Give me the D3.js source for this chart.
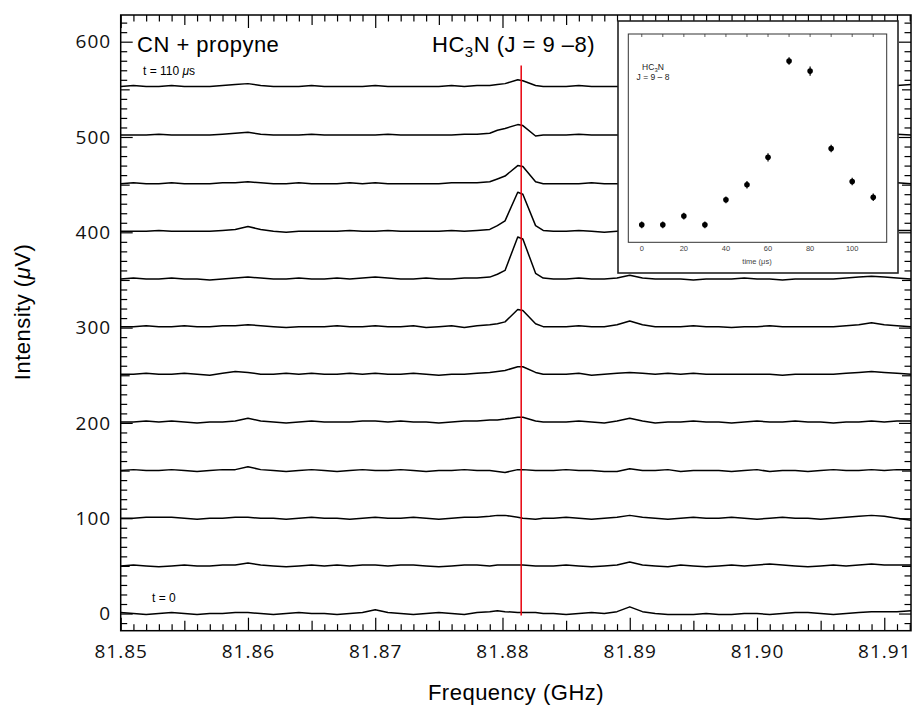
<!DOCTYPE html>
<meta charset="utf-8" />
<script src="https://d3js.org/d3.v7.min.js"></script>
<style>
  body { margin: 0; background: #fff; }
  svg { display: block; }
  .trace { fill: none; stroke: #000; stroke-width: 1.5; stroke-linejoin: round; }
  .axis path { display: none; }
  .axis line { stroke: #000; stroke-width: 1.2; }
  .axis text { font-family: "Open Sans", sans-serif; font-size: 19px; letter-spacing: 1px; fill: #111; }
  .lbl { font-family: "Liberation Sans", Arial, sans-serif; fill: #000; }
  .big { letter-spacing: 0.5px; }
  .ilbl { font-family: "Liberation Sans", Arial, sans-serif; }
</style>
<body>
<div id="chart"></div>
<script>
  // frequency grid, in MHz above 81.850 GHz
  const freqMHz = [
    0, 1, 2, 3, 4, 5, 6, 7, 8, 9,
    10, 11, 12, 13, 14, 15, 16, 17, 18, 19,
    20, 21, 22, 23, 24, 25, 26, 27, 28, 29,
    29.6, 30.2, 31.2, 31.6, 32.6, 33.2,
    34, 35, 36, 37, 38, 39, 40, 41, 42, 43,
    44, 45, 46, 47, 48, 49, 50, 51, 52, 53,
    54, 55, 56, 57, 58, 59, 60, 61,
    62.1
  ];

  // delay after photolysis (us) and vertical offset of each trace (uV)
  const delays = [0, 10, 20, 30, 40, 50, 60, 70, 80, 90, 100, 110];
  const offsets = [0, 50, 100, 150, 201, 251, 301, 351, 401, 451, 502, 553];

  // intensity of each trace above its offset (uV), one value per grid point
  const trace0 = [
    1,0,-1,0,1,0,-1,0,0,1,   1,0,-1,0,1,0,0,-1,0,1,   4,1,0,-1,0,1,0,-1,1,2,
    3,2,1,1,1,0,
    0,-1,0,1,0,2,7,2,0,-1,   -1,-1,0,-1,-1,0,0,-1,0,1,   1,0,-1,0,1,2,2,2,   3
  ];
  const trace1 = [
    0,1,0,-1,0,1,0,0,1,1,   3,1,0,-1,0,1,0,1,0,1,   1,0,1,1,0,-1,0,1,1,0,
    1,1,1,1,0,0,
    0,1,0,-1,0,1,4,1,0,-1,   1,0,-1,0,1,0,1,2,1,0,   -1,0,1,0,1,2,1,1,   1
  ];
  const trace2 = [
    0,0,1,1,1,0,-1,0,0,1,   1,0,0,-1,0,1,0,0,-1,0,   1,0,0,1,0,-1,0,1,1,2,
    3,3,1,0,-1,0,
    0,1,0,-1,0,1,3,1,0,-1,   0,1,0,0,1,0,-1,0,1,0,   0,-1,0,1,2,3,2,0,   -2
  ];
  const trace3 = [
    0,1,0,0,1,0,-1,0,1,1,   4,1,0,-1,0,1,0,-1,0,1,   0,0,1,0,-1,0,0,1,0,0,
    -1,-2,1,1,0,0,
    0,1,0,0,-1,-1,2,0,0,1,   -1,0,0,0,-1,0,1,-1,0,0,   -1,0,1,0,0,1,0,1,   1
  ];
  const trace4 = [
    0,0,1,0,1,0,-1,0,0,1,   4,1,0,-1,0,1,0,0,0,1,   1,0,1,0,0,-1,0,1,1,2,
    2,3,5,5,1,0,
    0,0,1,0,-1,1,4,1,-1,0,   0,1,0,0,-1,0,1,0,0,1,   0,0,-1,0,0,1,0,1,   1
  ];
  const trace5 = [
    0,0,1,0,0,1,0,-1,1,3,   2,0,0,1,0,1,0,0,1,0,   1,0,0,1,0,-1,0,0,1,2,
    3,4,8,8,2,0,
    0,0,1,-1,0,1,2,1,0,1,   0,1,0,0,0,0,0,0,-1,0,   0,0,0,1,2,3,2,1,   0
  ];
  const trace6 = [
    0,0,1,0,0,1,0,0,1,1,   2,1,0,-1,0,0,0,1,0,0,   1,0,0,1,-1,0,1,-1,1,2,
    3,5,18,17,3,0,
    0,0,1,0,0,2,6,2,0,0,   0,1,0,0,-1,0,0,1,0,0,   0,0,0,1,2,4,2,1,   0
  ];
  const trace7 = [
    0,1,0,0,1,0,0,-1,0,1,   2,1,0,0,1,0,0,1,0,1,   2,1,0,0,1,0,0,1,1,2,
    5,9,44,42,6,1,
    0,0,1,0,0,1,4,1,0,0,   0,-1,0,0,0,1,0,0,-1,0,   0,0,0,1,2,3,2,1,   0
  ];
  const trace8 = [
    0,0,0,1,0,0,0,0,1,2,   5,2,0,-1,0,0,0,0,1,0,   0,1,0,0,0,0,1,0,1,2,
    6,11,41,39,6,1,
    0,0,1,0,-1,0,1,0,0,0,   0,0,1,0,0,0,0,0,1,0,   0,0,0,0,1,1,0,1,   1
  ];
  const trace9 = [
    0,1,0,0,1,0,0,0,1,1,   2,1,0,0,1,0,0,0,1,0,   1,0,0,0,0,0,1,1,1,2,
    5,8,19,18,2,0,
    0,0,0,1,0,0,0,0,0,0,   0,0,0,0,0,0,0,0,0,0,   0,0,0,0,0,0,1,1,   0
  ];
  const trace10 = [
    0,0,0,1,0,0,0,0,1,2,   3,1,0,0,0,1,0,0,0,0,   0,1,0,0,0,0,0,1,1,2,
    5,7,11,10,-1,0,
    0,0,1,0,0,0,0,0,0,0,   0,0,0,0,0,0,0,0,0,0,   0,0,0,0,0,0,1,1,   0
  ];
  const trace11 = [
    0,1,0,0,1,0,0,0,1,2,   3,1,0,0,0,1,0,0,0,0,   1,0,0,0,0,0,1,0,1,1,
    2,3,7,6,1,0,
    0,0,1,0,0,0,0,0,0,0,   0,0,0,0,0,0,0,0,0,0,   0,0,0,0,0,0,1,1,   2
  ];
  const traces = [trace0, trace1, trace2, trace3, trace4, trace5,
                  trace6, trace7, trace8, trace9, trace10, trace11];

  // HC3N J = 9-8 rest frequency (GHz)
  const lineFreq = 81.88147;

  // inset: line intensity vs delay
  const insetSignal = [4.2, 4.2, 6.3, 4.2, 10.2, 13.8, 20.4, 43.5, 41.1, 22.5, 14.6, 10.8];
  const insetError  = [0.8, 0.8, 0.8, 0.8, 0.8, 0.9, 1.0, 0.9, 1.1, 0.9, 0.9, 0.9];

  const xTicks = [81.85, 81.86, 81.87, 81.88, 81.89, 81.90, 81.91];
  const yTicks = [0, 100, 200, 300, 400, 500, 600];
  const insetTicks = [0, 20, 40, 60, 80, 100];

  const W = 913, H = 708;
  const svg = d3.select("#chart").append("svg").attr("width", W).attr("height", H);

  const x = d3.scaleLinear().domain([81.85, 81.9121]).range([120.7, 911]);
  const y = d3.scaleLinear().domain([-18, 628]).range([630.7, 15]);
  const [x0, x1] = x.range(), [yb, yt] = y.range();

  // traces
  const line = d3.line()
    .x(d => x(81.85 + d[0] / 1000))
    .y(d => y(d[1]));
  svg.append("g").selectAll("path")
    .data(traces)
    .join("path")
    .attr("class", "trace")
    .attr("d", (vals, i) => line(freqMHz.map((m, k) => [m, offsets[i] + (vals[k] || 0)])));

  // line position
  svg.append("line")
    .attr("x1", x(lineFreq)).attr("x2", x(lineFreq))
    .attr("y1", y(-2)).attr("y2", y(575))
    .attr("stroke", "#e8000c").attr("stroke-width", 1.5);

  // axes: ticks point inward on all four sides
  const minorX = d3.range(0, 63).map(i => 81.85 + i / 1000);
  const minorY = d3.range(-1, 63).map(i => i * 10);
  function addAxis(axisFn, scale, vals, size, pos, labels) {
    const a = axisFn(scale).tickValues(vals).tickSizeInner(-size).tickSizeOuter(0);
    if (!labels) a.tickFormat("");
    return svg.append("g").attr("class", "axis").attr("transform", pos).call(a);
  }
  [[d3.axisBottom, `translate(0,${yb})`], [d3.axisTop, `translate(0,${yt})`]].forEach(([fn, pos]) => {
    addAxis(fn, x, minorX.filter((v, i) => i % 5 !== 0), 6.5, pos, false);
    addAxis(fn, x, minorX.filter((v, i) => i % 10 === 5), 10, pos, false);
  });
  [[d3.axisLeft, `translate(${x0},0)`], [d3.axisRight, `translate(${x1},0)`]].forEach(([fn, pos]) => {
    addAxis(fn, y, minorY.filter(v => v % 50 !== 0), 6.5, pos, false);
    addAxis(fn, y, minorY.filter(v => v % 100 === 50), 9, pos, false);
  });
  addAxis(d3.axisBottom, x, xTicks, 13, `translate(0,${yb})`, true)
    .call(g => g.selectAll(".tick text").text(d => d3.format(".2f")(d)).attr("y", 14).attr("dy", "0.71em"));
  addAxis(d3.axisTop, x, xTicks, 13, `translate(0,${yt})`, false);
  addAxis(d3.axisLeft, y, yTicks, 12, `translate(${x0},0)`, true)
    .call(g => g.selectAll(".tick text").attr("x", -9.5));
  addAxis(d3.axisRight, y, yTicks, 12, `translate(${x1},0)`, false);

  // frame
  svg.append("rect")
    .attr("x", x0).attr("y", yt).attr("width", x1 - x0).attr("height", yb - yt)
    .attr("fill", "none").attr("stroke", "#000").attr("stroke-width", 1.5);

  // labels
  svg.append("text").attr("class", "lbl big").attr("x", 137).attr("y", 52)
    .attr("font-size", 22).text("CN + propyne");
  const hc = svg.append("text").attr("class", "lbl big").attr("x", 432).attr("y", 52).attr("font-size", 22);
  hc.append("tspan").text("HC");
  hc.append("tspan").attr("font-size", 15).attr("dy", 5).text("3");
  hc.append("tspan").attr("dy", -5).text("N (J = 9 \u20138)");

  const t1 = svg.append("text").attr("class", "lbl").attr("x", 143).attr("y", 75).attr("font-size", 12);
  t1.append("tspan").text("t = 110 ");
  t1.append("tspan").attr("font-style", "italic").text("\u03bc");
  t1.append("tspan").text("s");
  svg.append("text").attr("class", "lbl").attr("x", 152).attr("y", 602)
    .attr("font-size", 12).text("t = 0");

  svg.append("text").attr("class", "lbl big").attr("x", 516).attr("y", 700)
    .attr("text-anchor", "middle").attr("font-size", 22).text("Frequency (GHz)");
  const yl = svg.append("text").attr("class", "lbl big").attr("text-anchor", "middle")
    .attr("font-size", 22).attr("transform", "translate(30,312) rotate(-90)");
  yl.append("tspan").text("Intensity (");
  yl.append("tspan").attr("font-style", "italic").text("\u03bc");
  yl.append("tspan").text("V)");

  // inset
  const inset = svg.append("g");
  inset.append("rect").attr("x", 618).attr("y", 21).attr("width", 280).attr("height", 252)
    .attr("fill", "#fff").attr("stroke", "#222").attr("stroke-width", 1.6);
  const ix = d3.scaleLinear().domain([-6.4, 116.4]).range([628.3, 886.7]);
  const iy = d3.scaleLinear().domain([0, 50]).range([242.3, 34]);
  inset.append("rect").attr("x", 628.3).attr("y", 34).attr("width", 258.4).attr("height", 208.3)
    .attr("fill", "none").attr("stroke", "#333").attr("stroke-width", 1);
  inset.append("g").selectAll("line").data(d3.range(0, 111, 10)).join("line")
    .attr("x1", d => ix(d)).attr("x2", d => ix(d))
    .attr("y1", 34).attr("y2", 37).attr("stroke", "#333").attr("stroke-width", 0.8);
  inset.append("g").selectAll("text").data(insetTicks).join("text")
    .attr("class", "ilbl")
    .attr("x", d => ix(d)).attr("y", 251)
    .attr("text-anchor", "middle").attr("font-size", 7.5).attr("fill", "#444").text(d => d);
  inset.append("text").attr("class", "ilbl").attr("x", 757).attr("y", 264).attr("text-anchor", "middle")
    .attr("font-size", 7.5).attr("fill", "#444").text("time (\u03bcs)");
  const ih = inset.append("text").attr("class", "ilbl").attr("x", 653).attr("y", 70)
    .attr("text-anchor", "middle").attr("font-size", 8.5).attr("fill", "#222");
  ih.append("tspan").text("HC");
  ih.append("tspan").attr("font-size", 6).attr("dy", 1.5).text("3");
  ih.append("tspan").attr("dy", -1.5).text("N");
  inset.append("text").attr("class", "ilbl").attr("x", 653).attr("y", 80).attr("text-anchor", "middle")
    .attr("font-size", 8.5).attr("fill", "#222").text("J = 9 \u2013 8");

  const pts = delays.map((t, i) => ({ t, v: insetSignal[i], e: insetError[i] }));
  const pg = inset.append("g").selectAll("g").data(pts).join("g");
  pg.append("line")
    .attr("x1", d => ix(d.t)).attr("x2", d => ix(d.t))
    .attr("y1", d => iy(d.v - d.e)).attr("y2", d => iy(d.v + d.e))
    .attr("stroke", "#000").attr("stroke-width", 1.2);
  pg.append("circle").attr("cx", d => ix(d.t)).attr("cy", d => iy(d.v)).attr("r", 2.8).attr("fill", "#000");

  traces.forEach((t, i) => {
    if (t.length !== freqMHz.length) throw new Error("trace" + i + " has " + t.length + " values, grid has " + freqMHz.length);
  });
</script>
</body>
